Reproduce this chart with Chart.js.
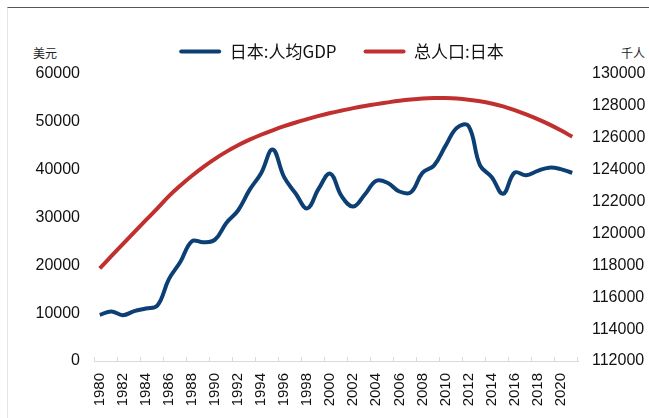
<!DOCTYPE html>
<html>
<head>
<meta charset="utf-8">
<script src="https://cdn.jsdelivr.net/npm/chart.js@4.4.1/dist/chart.umd.min.js"></script>
<style>
  body { margin: 0; background: #fff; }
  #wrap { position: relative; width: 649px; height: 418px; overflow: hidden; }
  #frame {
    position: absolute; left: 7px; top: 7px; right: 0; bottom: 0;
    border-top: 1px solid #555; border-left: 1px solid #e4e4e4;
  }
  .unit {
    position: absolute; top: 44px; line-height: 12px;
    font: 12px "Noto Sans CJK SC", sans-serif; color: #222;
  }
  canvas { position: absolute; left: 0; top: 0; }
</style>
</head>
<body>
<div id="wrap">
  <div id="frame"></div>
  <div class="unit" style="left:33px">美元</div>
  <div class="unit" style="left:621px">千人</div>
  <canvas id="chart" width="649" height="418"></canvas>
</div>
<script>

// =========================
// DATA
// =========================

const years = [
  '1980', '1981', '1982', '1983', '1984', '1985', '1986', '1987', '1988', '1989',
  '1990', '1991', '1992', '1993', '1994', '1995', '1996', '1997', '1998', '1999',
  '2000', '2001', '2002', '2003', '2004', '2005', '2006', '2007', '2008', '2009',
  '2010', '2011', '2012', '2013', '2014', '2015', '2016', '2017', '2018', '2019',
  '2020', '2021'
];

// 日本:人均GDP (美元)
const gdpPerCapita = [
  9659, 10361, 9578, 10425, 10984, 11585, 17112, 20745, 25052, 24813,
  25371, 28925, 31465, 35766, 39269, 44198, 38437, 35022, 31903, 36027,
  39169, 34406, 32289, 34808, 37688, 37218, 35434, 35275, 39339, 40855,
  44968, 48760, 49145, 40898, 38475, 34961, 39375, 38834, 39751, 40416,
  40113, 39313
];

// 总人口:日本 (千人)
const population = [
  117810, 118570, 119330, 120080, 120830, 121570, 122340, 123010, 123620, 124180,
  124680, 125130, 125530, 125880, 126190, 126470, 126730, 126960, 127170, 127370,
  127550, 127710, 127860, 127990, 128110, 128220, 128320, 128400, 128460, 128490,
  128490, 128460, 128390, 128290, 128150, 127970, 127740, 127470, 127170, 126840,
  126470, 126060
];

const gdpTicks = [0, 10000, 20000, 30000, 40000, 50000, 60000];

const popTicks = [112000, 114000, 116000, 118000, 120000, 122000, 124000, 126000, 128000, 130000];


// =========================
// CHART
// =========================

Chart.defaults.font.family = 'Arial, "Liberation Sans", sans-serif';
Chart.defaults.color = '#111';

const blue = '#0c3f74';
const red = '#c0302f';

new Chart(document.getElementById('chart'), {

  type: 'line',

  data: {
    labels: years,
    datasets: [
      {
        label: '日本:人均GDP',
        data: gdpPerCapita,
        yAxisID: 'y',
        borderColor: blue,
        backgroundColor: blue,
        borderWidth: 4,
        pointRadius: 0,
        tension: 0.4
      },
      {
        label: '总人口:日本',
        data: population,
        yAxisID: 'y1',
        borderColor: red,
        backgroundColor: red,
        borderWidth: 4,
        pointRadius: 0,
        tension: 0.4
      }
    ]
  },

  options: {
    responsive: false,
    animation: false,
    devicePixelRatio: 1,
    layout: { padding: { top: 16, left: 34, right: 0, bottom: 0 } },

    plugins: {
      tooltip: { enabled: false },

      legend: {
        position: 'top',
        labels: {
          boxWidth: 42,
          boxHeight: 4,
          useBorderRadius: true,
          borderRadius: 2,
          padding: 27,
          color: '#111',
          font: { family: '"Noto Sans CJK SC", sans-serif', size: 17 },
          generateLabels: chart =>
            Chart.defaults.plugins.legend.labels.generateLabels(chart)
              .map(item => ({ ...item, lineWidth: 0 }))
        }
      },

      // empty title used as a small gap under the legend
      title: {
        display: true,
        text: '',
        position: 'top',
        weight: 500,
        padding: 0,
        font: { size: 4, lineHeight: 1 }
      }
    },

    scales: {

      x: {
        offset: true,
        afterFit: s => { s.height = 57; },
        border: { display: true, color: '#d9d9d9', width: 1 },
        grid: {
          display: true,
          drawOnChartArea: false,
          drawTicks: true,
          tickLength: -4,
          offset: true,
          tickColor: c =>
            (c.index === undefined || c.index % 2 === 0) ? '#d9d9d9' : 'rgba(0,0,0,0)'
        },
        ticks: {
          autoSkip: false,
          minRotation: 90,
          maxRotation: 90,
          padding: 16,
          font: { size: 15 },
          callback: (value, index) => index % 2 === 0 ? years[index] : ''
        }
      },

      y: {
        position: 'left',
        min: gdpTicks[0],
        max: gdpTicks[gdpTicks.length - 1],
        afterFit: s => { s.width = 60; },
        border: { display: false },
        grid: { display: false, drawTicks: false },
        ticks: {
          stepSize: gdpTicks[1] - gdpTicks[0],
          padding: 14,
          font: { size: 16 },
          callback: v => String(v)
        }
      },

      y1: {
        position: 'right',
        min: popTicks[0],
        max: popTicks[popTicks.length - 1],
        afterFit: s => { s.width = 71; },
        border: { display: false },
        grid: { display: false, drawTicks: false },
        ticks: {
          stepSize: popTicks[1] - popTicks[0],
          padding: 14,
          font: { size: 16 },
          callback: v => String(v)
        }
      }
    }
  }
});

</script>
</body>
</html>
